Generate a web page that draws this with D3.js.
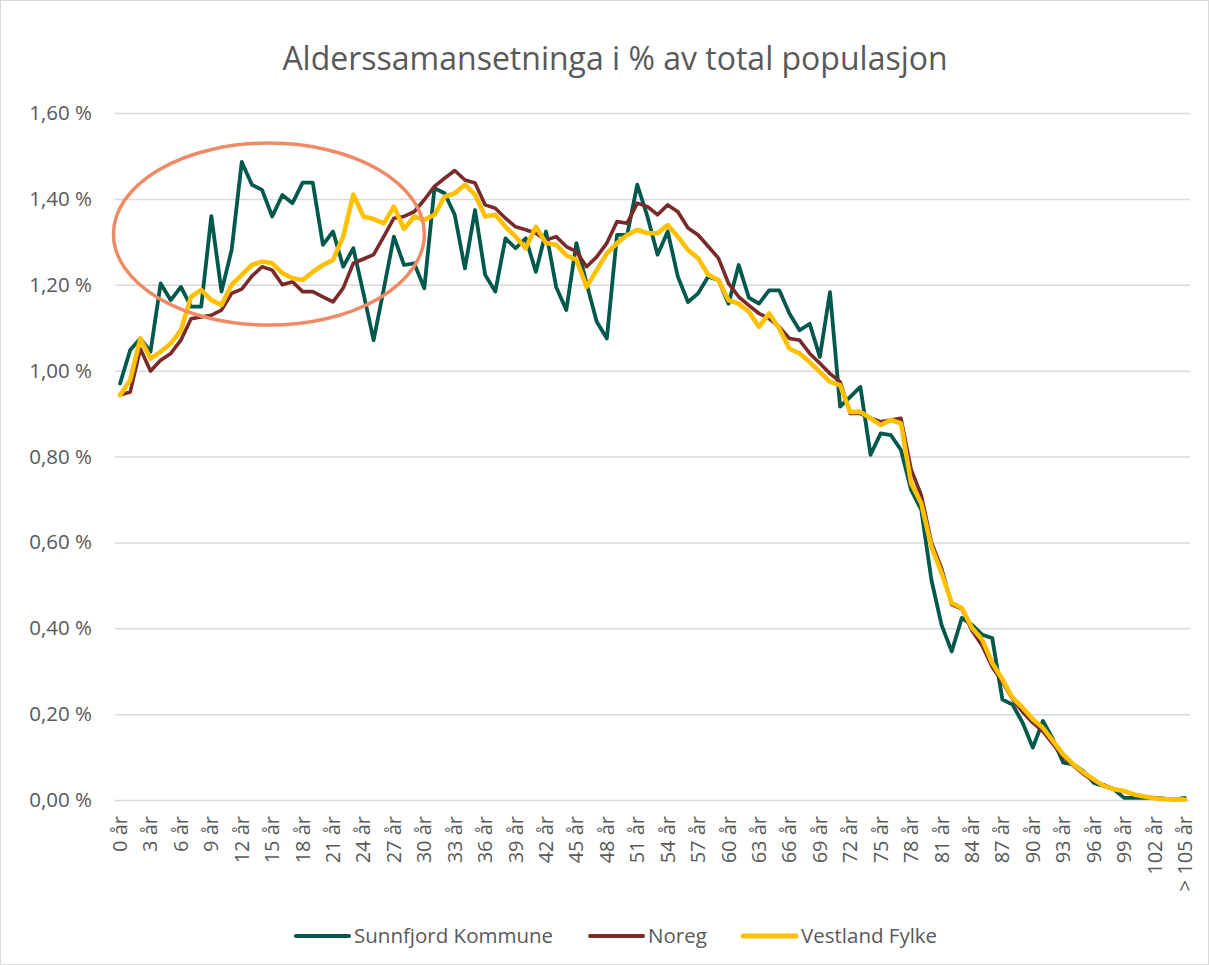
<!DOCTYPE html>
<html>
<head>
<meta charset="utf-8">
<script src="https://cdn.jsdelivr.net/npm/d3@7.9.0/dist/d3.min.js"></script>
<style>
  body { margin: 0; background: #fff; }
  text { font-family: "Open Sans", sans-serif; fill: #595959; }
</style>
</head>
<body>
<svg id="chart" width="1209" height="965"></svg>
<script>
// categories: 0 år .. 104 år, then "> 105 år"
const ages = d3.range(0, 105).map((a) => `${a} år`).concat(["> 105 år"]);

const sunnfjord = [
  0.97, 1.048, 1.075, 1.044, 1.203, 1.164, 1.195, 1.149, 1.149, 1.36,
  1.184, 1.281, 1.486, 1.433, 1.421, 1.359, 1.409, 1.39, 1.438, 1.438,
  1.293, 1.324, 1.242, 1.285, 1.18, 1.071, 1.19, 1.312, 1.246, 1.25,
  1.192, 1.425, 1.413, 1.363, 1.238, 1.374, 1.223, 1.184, 1.308, 1.285,
  1.308, 1.23, 1.324, 1.195, 1.141, 1.297, 1.203, 1.114, 1.075, 1.316,
  1.316, 1.433, 1.359, 1.27, 1.324, 1.219, 1.16, 1.18, 1.219, 1.211,
  1.156, 1.246, 1.17, 1.156, 1.187, 1.187, 1.133, 1.094, 1.109, 1.032,
  1.183, 0.916, 0.939, 0.962, 0.804, 0.854, 0.85, 0.815, 0.722, 0.676,
  0.513, 0.408, 0.346, 0.424, 0.408, 0.385, 0.377, 0.234, 0.222, 0.18,
  0.122, 0.184, 0.141, 0.087, 0.083, 0.067, 0.04, 0.033, 0.025, 0.005,
  0.005, 0.005, 0.005, 0.003, 0.001, 0.005
];

const noreg = [
  0.943, 0.95, 1.051, 0.999, 1.024, 1.04, 1.071, 1.121, 1.125, 1.129,
  1.141, 1.18, 1.19, 1.22, 1.242, 1.234, 1.2, 1.207, 1.184, 1.184,
  1.172, 1.16, 1.192, 1.25, 1.26, 1.27, 1.312, 1.355, 1.359, 1.37,
  1.398, 1.429, 1.448, 1.466, 1.444, 1.437, 1.386, 1.378, 1.355, 1.335,
  1.328, 1.32, 1.304, 1.312, 1.289, 1.277, 1.242, 1.265, 1.297, 1.347,
  1.343, 1.39, 1.382, 1.363, 1.386, 1.37, 1.332, 1.316, 1.289, 1.262,
  1.203, 1.172, 1.152, 1.133, 1.121, 1.102, 1.075, 1.071, 1.04, 1.017,
  0.993, 0.974, 0.9, 0.9, 0.889, 0.881, 0.885, 0.889, 0.77, 0.71,
  0.6, 0.54, 0.455, 0.445, 0.395, 0.36, 0.31, 0.275, 0.235, 0.205,
  0.18, 0.16, 0.13, 0.1, 0.08, 0.06, 0.045, 0.035, 0.025, 0.02,
  0.012, 0.008, 0.005, 0.003, 0.002, 0.001
];

const vestland = [
  0.943, 0.978, 1.075, 1.028, 1.044, 1.063, 1.094, 1.172, 1.188, 1.164,
  1.153, 1.2, 1.223, 1.246, 1.254, 1.25, 1.227, 1.215, 1.211, 1.23,
  1.246, 1.258, 1.312, 1.41, 1.359, 1.353, 1.343, 1.382, 1.33, 1.359,
  1.351, 1.363, 1.405, 1.413, 1.433, 1.41, 1.359, 1.363, 1.335, 1.312,
  1.285, 1.335, 1.297, 1.293, 1.269, 1.258, 1.195, 1.234, 1.273, 1.297,
  1.316, 1.328, 1.32, 1.32, 1.339, 1.312, 1.281, 1.262, 1.223, 1.211,
  1.164, 1.156, 1.137, 1.102, 1.133, 1.098, 1.051, 1.04, 1.02, 0.997,
  0.974, 0.966, 0.904, 0.904, 0.889, 0.873, 0.885, 0.877, 0.738, 0.691,
  0.59, 0.529, 0.459, 0.447, 0.401, 0.374, 0.319, 0.281, 0.238, 0.215,
  0.188, 0.168, 0.137, 0.106, 0.083, 0.064, 0.048, 0.033, 0.025, 0.021,
  0.013, 0.008, 0.004, 0.002, 0.0015, 0.001
];

const seriesNames = ["Sunnfjord Kommune", "Noreg", "Vestland Fylke"];
const seriesColors = ["#00594C", "#7A2A2A", "#FFC000"];
const seriesWidths = [3.8, 3.6, 4.6];
const yTicks = [0, 0.2, 0.4, 0.6, 0.8, 1.0, 1.2, 1.4, 1.6];

// highlighted region (data space): age index range and value range
const highlightAges = [-0.65, 30.0];
const highlightValues = [1.106, 1.53];

const width = 1209, height = 965;
const plot = { left: 115, right: 1190, top: 113, bottom: 800 };

const svg = d3.select("#chart");

svg.append("rect")
  .attr("x", 0.5).attr("y", 0.5)
  .attr("width", width - 1).attr("height", height - 1)
  .attr("fill", "#fff").attr("stroke", "#d9d9d9");

const x = d3.scaleBand().domain(ages).range([plot.left, plot.right]).padding(0);
const xc = (c) => x(c) + x.bandwidth() / 2;
const xi = d3.scaleLinear().domain([0, ages.length - 1]).range([xc(ages[0]), xc(ages[ages.length - 1])]);
const y = d3.scaleLinear().domain([0, 1.6]).range([plot.bottom, plot.top]);

svg.append("text")
  .attr("x", 615).attr("y", 70)
  .attr("text-anchor", "middle")
  .attr("font-size", 32)
  .text("Alderssamansetninga i % av total populasjon");

// gridlines + y labels
const yAxis = d3.axisLeft(y)
  .tickValues(yTicks)
  .tickSize(-(plot.right - plot.left))
  .tickPadding(23)
  .tickFormat((d) => d3.format(".2f")(d).replace(".", ",") + " %");

const gy = svg.append("g").attr("transform", `translate(${plot.left},0)`).call(yAxis);
gy.select(".domain").remove();
gy.selectAll(".tick line").attr("stroke", "#d9d9d9").attr("stroke-width", 1.5);
gy.selectAll(".tick text")
  .attr("font-size", 20.5).attr("fill", "#595959")
  .style("font-family", '"Open Sans", sans-serif');

// x labels
const xAxis = d3.axisBottom(x)
  .tickValues(ages.filter((d, i) => i % 3 === 0))
  .tickSize(0)
  .tickPadding(0);

const gx = svg.append("g").attr("transform", `translate(0,${plot.bottom})`).call(xAxis);
gx.select(".domain").remove();
gx.selectAll(".tick text")
  .attr("font-size", 20).attr("fill", "#595959")
  .style("font-family", '"Open Sans", sans-serif')
  .attr("transform", "rotate(-90)")
  .attr("text-anchor", "end")
  .attr("x", -16).attr("y", 0).attr("dy", "0.35em");

// lines
const allSeries = [sunnfjord, noreg, vestland];
const line = d3.line().x((d, i) => xc(ages[i])).y((d) => y(d));

allSeries.forEach((s, k) => {
  svg.append("path")
    .datum(s)
    .attr("d", line)
    .attr("fill", "none")
    .attr("stroke", seriesColors[k])
    .attr("stroke-width", seriesWidths[k])
    .attr("stroke-linejoin", "round")
    .attr("stroke-linecap", "round");
});

// highlight ellipse
const ex0 = xi(highlightAges[0]), ex1 = xi(highlightAges[1]);
const ey0 = y(highlightValues[1]), ey1 = y(highlightValues[0]);
svg.append("ellipse")
  .attr("cx", (ex0 + ex1) / 2).attr("cy", (ey0 + ey1) / 2)
  .attr("rx", (ex1 - ex0) / 2).attr("ry", (ey1 - ey0) / 2)
  .attr("fill", "none")
  .attr("stroke", "#EE8A66")
  .attr("stroke-width", 3.5);

// legend
const legendX = [296, 590, 743];
const legend = svg.append("g");
seriesNames.forEach((name, k) => {
  const g = legend.append("g").attr("transform", `translate(${legendX[k]},936)`);
  g.append("line")
    .attr("x1", 0).attr("x2", 53).attr("y1", 0).attr("y2", 0)
    .attr("stroke", seriesColors[k])
    .attr("stroke-width", seriesWidths[k] + 0.4)
    .attr("stroke-linecap", "round");
  g.append("text")
    .attr("x", 58).attr("y", 0).attr("dy", "0.35em")
    .attr("font-size", 20.5)
    .text(name);
});
</script>
</body>
</html>
